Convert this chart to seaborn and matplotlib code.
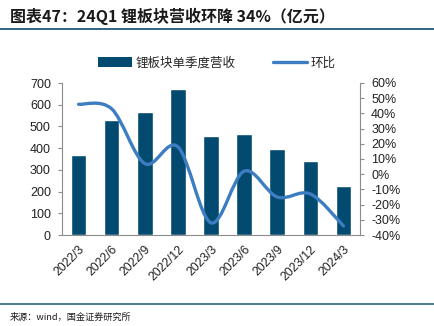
import numpy as np
import pandas as pd
import matplotlib
matplotlib.use("Agg")
import matplotlib.pyplot as plt
from matplotlib.path import Path
from matplotlib.patches import PathPatch, Patch
from matplotlib.lines import Line2D
from matplotlib.ticker import FuncFormatter, MultipleLocator
import seaborn as sns

# Quarterly revenue of the lithium sector (100 million yuan) and QoQ change
quarters = ["2022/3", "2022/6", "2022/9", "2022/12", "2023/3",
            "2023/6", "2023/9", "2023/12", "2024/3"]
revenue = [370, 530, 567, 671, 458, 464, 394, 343, 227]
qoq_pct = [46, 43, 7, 18, -32, 2, -15, -13, -34]

bar_label = "锂板块单季度营收"
line_label = "环比"
title = "图表47：24Q1 锂板块营收环降 34%（亿元）"
source = "来源：wind，国金证券研究所"

sns.set_theme(style="white")
plt.rcParams["font.family"] = ["Liberation Sans", "Noto Sans CJK SC", "DejaVu Sans"]

BAR_C = "#034A70"
LINE_C = "#3D7DC2"
RULE_C = "#2F6482"
AX_C = "#8C8C8C"

fig = plt.figure(figsize=(4.34, 3.26), dpi=100)
ax = fig.add_axes([62 / 434, 1 - 235 / 326, (360 - 62) / 434, (235 - 83) / 326])

df = pd.DataFrame({"quarter": quarters, "revenue": revenue})
sns.barplot(data=df, x="quarter", y="revenue", color=BAR_C, saturation=1,
            width=0.47, ax=ax)
ax.set_xlim(-0.5, len(quarters) - 0.5)
ax.set_ylim(0, 700)
ax.yaxis.set_major_locator(MultipleLocator(100))
ax.set_xlabel("")
ax.set_ylabel("")

# Category boundaries as tick marks, labels at bar centres
ax.set_xticks(np.arange(len(quarters)))
ax.set_xticklabels(quarters, rotation=45, ha="right", rotation_mode="anchor",
                   fontsize=8.8, color="#222222")
ax.set_xticks(np.arange(len(quarters) + 1) - 0.5, minor=True)
ax.tick_params(axis="x", which="major", length=0, pad=6)
ax.tick_params(axis="x", which="minor", length=3, color=AX_C, width=0.8,
               direction="out")
ax.tick_params(axis="y", length=3, color=AX_C, width=0.8, direction="out",
               labelsize=9, labelcolor="#222222", pad=5)

for side in ["left", "bottom"]:
    ax.spines[side].set_color(AX_C)
    ax.spines[side].set_linewidth(0.8)
ax.spines["top"].set_visible(False)
ax.spines["right"].set_visible(False)

# Secondary axis for QoQ change, drawn as a smoothed curve
ax2 = ax.twinx()
ax2.set_ylim(-40, 60)
ax2.yaxis.set_major_locator(MultipleLocator(10))
ax2.yaxis.set_major_formatter(FuncFormatter(lambda v, p: f"{int(round(v))}%"))
ax2.tick_params(axis="y", length=3, color=AX_C, width=0.8, direction="out",
                labelsize=9, labelcolor="#222222", pad=5)
for side in ["left", "top", "bottom"]:
    ax2.spines[side].set_visible(False)
ax2.spines["right"].set_color(AX_C)
ax2.spines["right"].set_linewidth(0.8)

pts = np.column_stack([np.arange(len(qoq_pct)), np.array(qoq_pct, float)])
n = len(pts)
verts = [tuple(pts[0])]
codes = [Path.MOVETO]
for i in range(n - 1):
    p0 = pts[max(i - 1, 0)]
    p1 = pts[i]
    p2 = pts[i + 1]
    p3 = pts[min(i + 2, n - 1)]
    c1 = p1 + (p2 - p0) / 6.0
    c2 = p2 - (p3 - p1) / 6.0
    verts += [tuple(c1), tuple(c2), tuple(p2)]
    codes += [Path.CURVE4] * 3
ax2.add_patch(PathPatch(Path(verts, codes), facecolor="none", edgecolor=LINE_C,
                        linewidth=2.4, capstyle="round", joinstyle="round"))
ax2.set_xlim(-0.5, len(quarters) - 0.5)

# Legend above the plot
handles = [Patch(facecolor=BAR_C, edgecolor="none", label=bar_label),
           Line2D([0], [0], color=LINE_C, linewidth=2.4, label=line_label)]
fig.legend(handles=handles, loc="center", bbox_to_anchor=(217 / 434, 1 - 63 / 326),
           ncol=2, frameon=False, handlelength=2.7, handleheight=0.9,
           columnspacing=3.0, handletextpad=0.3,
           prop={"family": ["Noto Sans CJK SC"], "size": 9})

# Title and source
fig.text(10 / 434, 1 - 16 / 326, title, fontsize=11.5, fontweight="bold",
         fontstyle="italic", color="#1A1A1A", va="center", ha="left",
         family=["Noto Sans CJK SC", "DejaVu Sans"])
fig.add_artist(Line2D([0, 1], [1 - 29 / 326] * 2, color=RULE_C, linewidth=1.4,
                      transform=fig.transFigure))
fig.add_artist(Line2D([0, 1], [1 - 304 / 326] * 2, color=RULE_C, linewidth=1.2,
                      transform=fig.transFigure))
fig.text(10 / 434, 1 - 317 / 326, source, fontsize=6.6, color="#1A1A1A",
         va="center", ha="left", family=["Noto Sans CJK SC", "DejaVu Sans"])

fig.savefig("out.png", dpi=100)
